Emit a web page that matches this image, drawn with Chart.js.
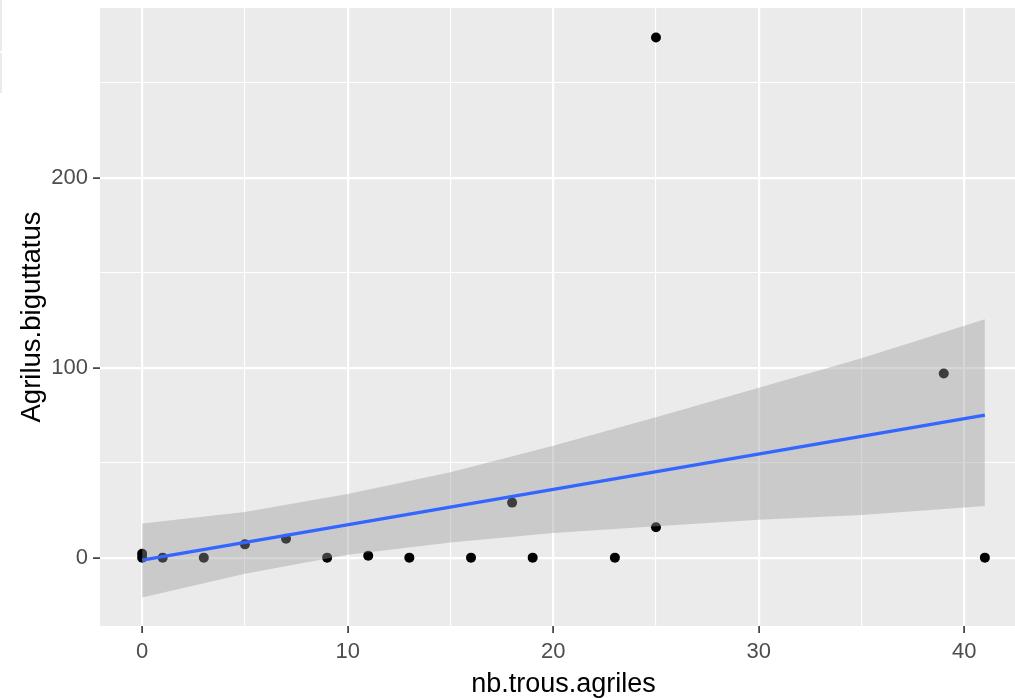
<!DOCTYPE html>
<html>
<head>
<meta charset="utf-8">
<script src="https://cdn.jsdelivr.net/npm/chart.js@4.4.1/dist/chart.umd.min.js"></script>
<style>
  html, body { margin: 0; padding: 0; background: #fff; overflow: hidden; }
  canvas { display: block; }
</style>
</head>
<body>
<canvas id="c" width="1032" height="698" style="width:1032px;height:698px"></canvas>
<script>
// observed points
var nbTrous = [0, 0, 1, 3, 5, 7, 9, 11, 13, 16, 18, 19, 23, 25, 25, 39, 41];
var agrilus = [2, 0, 0, 0, 7, 10, 0, 1, 0, 0, 29, 0, 0, 16, 274, 97, 0];

// fitted line (geom_smooth, lm)
var fitX = [0, 41];
var fitY = [-1.3, 75.1];

// confidence band
var bandX = [0, 5, 10, 15, 20, 25, 30, 35, 41];
var bandUpper = [18, 24, 33.5, 45, 59, 74, 89.5, 105, 125.5];
var bandLower = [-21, -8.5, 1.5, 8, 13, 16.5, 20, 22.5, 27.2];

// tick values
var xTicks = [0, 5, 10, 15, 20, 25, 30, 35, 40];
var yTicks = [0, 50, 100, 150, 200, 250];

var FONT = '"Liberation Sans", Arial, sans-serif';

function pts(xs, ys) {
    var out = [];
    for (var i = 0; i < xs.length; i++) out.push({ x: xs[i], y: ys[i] });
    return out;
}

// ggplot grey panel + a small leftover strip at the top-left
var panelBg = {
    id: 'panelBg',
    beforeDraw: function (chart) {
        var a = chart.chartArea, ctx = chart.ctx;
        ctx.save();
        ctx.fillStyle = '#EBEBEB';
        ctx.fillRect(a.left, a.top, a.right - a.left, a.bottom - a.top);
        ctx.fillRect(0, 0, 2, 51);
        ctx.fillRect(0, 53, 2, 40);
        ctx.restore();
    }
};

function gridFor(step) {
    return {
        color: '#FFFFFF',
        lineWidth: function (c) { return c.tick && c.tick.value % step === 0 ? 2.2 : 1.1; },
        tickColor: function (c) { return c.tick && c.tick.value % step === 0 ? '#333333' : 'rgba(0,0,0,0)'; },
        tickWidth: function (c) { return c.tick && c.tick.value % step === 0 ? 1.6 : 0; },
        tickLength: 7,
        drawTicks: true
    };
}

new Chart(document.getElementById('c'), {
    type: 'scatter',
    data: {
        datasets: [
            {
                label: 'points',
                data: pts(nbTrous, agrilus),
                backgroundColor: '#000000',
                borderWidth: 0,
                pointRadius: 5,
                order: 3
            },
            {
                label: 'upper',
                data: pts(bandX, bandUpper),
                showLine: true,
                borderWidth: 0,
                borderColor: 'rgba(0,0,0,0)',
                pointRadius: 0,
                tension: 0,
                fill: '+1',
                backgroundColor: 'rgba(153,153,153,0.4)',
                order: 2
            },
            {
                label: 'lower',
                data: pts(bandX, bandLower),
                showLine: true,
                borderWidth: 0,
                borderColor: 'rgba(0,0,0,0)',
                pointRadius: 0,
                tension: 0,
                fill: false,
                order: 2
            },
            {
                label: 'fit',
                data: pts(fitX, fitY),
                showLine: true,
                borderColor: '#3366FF',
                borderWidth: 3.2,
                pointRadius: 0,
                fill: false,
                order: 1
            }
        ]
    },
    options: {
        responsive: false,
        animation: false,
        devicePixelRatio: 1,
        layout: { padding: { top: 8, left: 0, right: 0, bottom: 0 } },
        plugins: { legend: { display: false }, tooltip: { enabled: false } },
        scales: {
            x: {
                type: 'linear',
                min: -2.05,
                max: 43.05,
                afterBuildTicks: function (s) { s.ticks = xTicks.map(function (v) { return { value: v }; }); },
                afterFit: function (s) { s.height = 72; s.paddingLeft = 0; s.paddingRight = 0; },
                grid: gridFor(10),
                border: { display: false },
                ticks: {
                    autoSkip: false,
                    maxRotation: 0,
                    padding: 6,
                    color: '#4D4D4D',
                    font: { family: FONT, size: 22 },
                    callback: function (v) { return v % 10 === 0 ? String(v) : ''; }
                },
                title: {
                    display: true,
                    text: 'nb.trous.agriles',
                    color: '#000000',
                    font: { family: FONT, size: 27, lineHeight: 1 },
                    padding: { top: 0, bottom: 0 }
                }
            },
            y: {
                type: 'linear',
                min: -36,
                max: 289.5,
                afterBuildTicks: function (s) { s.ticks = yTicks.map(function (v) { return { value: v }; }); },
                afterFit: function (s) { s.width = 100; s.paddingTop = 0; s.paddingBottom = 0; },
                grid: gridFor(100),
                border: { display: false },
                ticks: {
                    autoSkip: false,
                    padding: 5,
                    color: '#4D4D4D',
                    font: { family: FONT, size: 22 },
                    callback: function (v) { return v % 100 === 0 ? String(v) : ''; }
                },
                title: {
                    display: true,
                    text: 'Agrilus.biguttatus',
                    color: '#000000',
                    font: { family: FONT, size: 27.5, lineHeight: 1 },
                    padding: { top: 19, bottom: 0 }
                }
            }
        }
    },
    plugins: [panelBg]
});
</script>
</body>
</html>
